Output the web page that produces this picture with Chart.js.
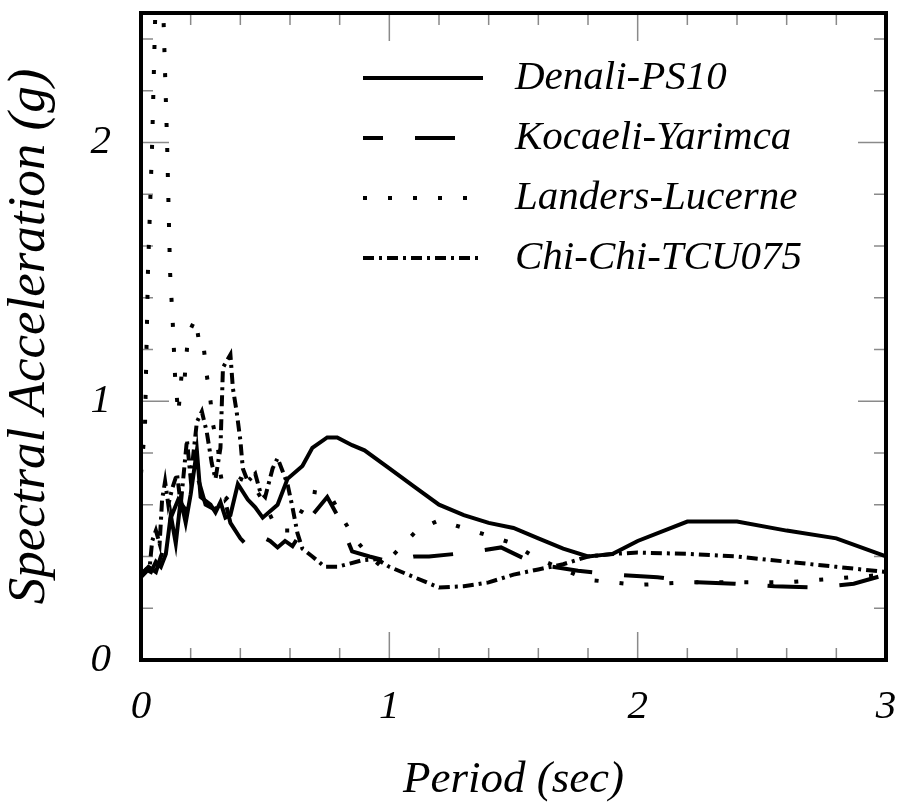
<!DOCTYPE html>
<html>
<head>
<meta charset="utf-8">
<script src="https://cdn.jsdelivr.net/npm/chart.js@4.4.1/dist/chart.umd.min.js"></script>
<style>
html, body { margin: 0; padding: 0; background: #fff; }
#probe { position: absolute; left: -999px; top: 0; font: italic 40px "Liberation Serif"; }
</style>
</head>
<body>
<span id="probe">Period</span>
<canvas id="spectraChart" width="899" height="803"></canvas>
<script>
// periods (sec) and spectral accelerations (g)
var denaliT  = [0, 0.02, 0.04, 0.06, 0.08, 0.1, 0.12, 0.14, 0.16, 0.18, 0.2, 0.225, 0.24, 0.28, 0.3, 0.32, 0.34, 0.36, 0.39, 0.43, 0.46, 0.49, 0.55, 0.59, 0.65, 0.69, 0.75, 0.79, 0.85, 0.9, 1.0, 1.1, 1.2, 1.3, 1.4, 1.5, 1.6, 1.7, 1.8, 1.9, 2.0, 2.2, 2.4, 2.6, 2.8, 3.0];
var denaliSa = [0.33, 0.35, 0.34, 0.38, 0.36, 0.41, 0.56, 0.45, 0.62, 0.53, 0.64, 0.81, 0.63, 0.60, 0.57, 0.61, 0.55, 0.56, 0.68, 0.62, 0.59, 0.55, 0.60, 0.70, 0.75, 0.82, 0.86, 0.86, 0.83, 0.81, 0.74, 0.67, 0.60, 0.56, 0.53, 0.51, 0.47, 0.43, 0.40, 0.41, 0.46, 0.535, 0.535, 0.50, 0.47, 0.40];

var kocaeliT  = [0, 0.03, 0.06, 0.08, 0.1, 0.12, 0.15, 0.18, 0.2, 0.23, 0.26, 0.3, 0.33, 0.36, 0.4, 0.45, 0.5, 0.52, 0.55, 0.58, 0.61, 0.65, 0.69, 0.75, 0.79, 0.85, 0.92, 1.0, 1.1, 1.16, 1.32, 1.45, 1.59, 1.76, 1.91, 2.08, 2.24, 2.39, 2.55, 2.72, 2.87, 3.0];
var kocaeliSa = [0.33, 0.36, 0.34, 0.40, 0.45, 0.55, 0.62, 0.58, 0.65, 0.70, 0.60, 0.58, 0.65, 0.53, 0.47, 0.42, 0.47, 0.46, 0.435, 0.46, 0.44, 0.50, 0.56, 0.63, 0.56, 0.42, 0.40, 0.38, 0.40, 0.40, 0.415, 0.435, 0.37, 0.345, 0.33, 0.32, 0.30, 0.295, 0.285, 0.28, 0.295, 0.33];

var landersT  = [0, 0.016, 0.028, 0.045, 0.06, 0.075, 0.09, 0.105, 0.117, 0.128, 0.137, 0.15, 0.165, 0.175, 0.19, 0.22, 0.235, 0.25, 0.265, 0.28, 0.29, 0.31, 0.32, 0.34, 0.37, 0.4, 0.45, 0.5, 0.55, 0.6, 0.65, 0.69, 0.76, 0.81, 0.86, 0.92, 0.97, 1.04, 1.11, 1.2, 1.3, 1.4, 1.5, 1.58, 1.7, 1.8, 1.9, 2.0, 2.2, 2.4, 2.6, 2.8, 3.0];
var landersSa = [0.72, 0.90, 1.50, 2.00, 2.60, 2.70, 2.50, 2.00, 1.50, 1.30, 1.10, 0.95, 1.12, 1.08, 1.26, 1.32, 1.22, 1.23, 1.10, 1.00, 0.91, 0.82, 0.72, 0.62, 0.65, 0.70, 0.68, 0.60, 0.50, 0.50, 0.58, 0.65, 0.64, 0.55, 0.47, 0.40, 0.36, 0.43, 0.50, 0.54, 0.51, 0.48, 0.45, 0.40, 0.35, 0.31, 0.30, 0.29, 0.30, 0.30, 0.30, 0.315, 0.33];

var chichiT  = [0, 0.02, 0.035, 0.045, 0.06, 0.075, 0.085, 0.097, 0.11, 0.125, 0.145, 0.16, 0.175, 0.185, 0.2, 0.225, 0.245, 0.265, 0.285, 0.3, 0.32, 0.33, 0.36, 0.37, 0.385, 0.4, 0.41, 0.43, 0.46, 0.48, 0.5, 0.53, 0.55, 0.57, 0.59, 0.61, 0.63, 0.65, 0.69, 0.74, 0.79, 0.83, 0.89, 0.95, 1.0, 1.1, 1.2, 1.3, 1.4, 1.5, 1.6, 1.7, 1.8, 1.9, 2.0, 2.2, 2.4, 2.6, 2.8, 3.0];
var chichiSa = [0.32, 0.34, 0.36, 0.46, 0.50, 0.45, 0.62, 0.69, 0.60, 0.66, 0.72, 0.60, 0.75, 0.85, 0.70, 0.92, 0.96, 0.88, 0.76, 0.70, 0.82, 1.13, 1.18, 1.05, 0.96, 0.85, 0.74, 0.69, 0.72, 0.65, 0.63, 0.74, 0.78, 0.73, 0.68, 0.59, 0.49, 0.43, 0.40, 0.36, 0.36, 0.37, 0.385, 0.39, 0.36, 0.32, 0.28, 0.285, 0.30, 0.33, 0.35, 0.37, 0.40, 0.41, 0.415, 0.41, 0.40, 0.38, 0.36, 0.34];

var seriesNames = ["Denali-PS10", "Kocaeli-Yarimca", "Landers-Lucerne", "Chi-Chi-TCU075"];
var xTickLabels = ["0", "1", "2", "3"];
var yTickLabels = ["0", "1", "2"];

function pts(t, s) {
    return t.map(function(v, i) { return {x: v, y: s[i]}; });
}

var serif = '"Liberation Serif", "Times New Roman", serif';

// inward tick marks on all four sides, like the original plot
var frameTicks = {
    id: 'frameTicks',
    beforeDatasetsDraw: function(chart) {
        var ctx = chart.ctx, a = chart.chartArea;
        var xs = chart.scales.x, ys = chart.scales.y;
        ctx.save();
        ctx.strokeStyle = '#8a8a8a';
        ctx.lineWidth = 1.5;
        ctx.beginPath();
        for (var i = 1; i < 15; i++) {
            var px = xs.getPixelForValue(i * 0.2);
            var len = (i % 5 === 0) ? 28 : 12;
            ctx.moveTo(px, a.bottom); ctx.lineTo(px, a.bottom - len);
            ctx.moveTo(px, a.top); ctx.lineTo(px, a.top + len);
        }
        for (var j = 1; j < 13; j++) {
            var py = ys.getPixelForValue(j * 0.2);
            var l2 = (j % 5 === 0) ? 28 : 12;
            ctx.moveTo(a.left, py); ctx.lineTo(a.left + l2, py);
            ctx.moveTo(a.right, py); ctx.lineTo(a.right - l2, py);
        }
        ctx.stroke();
        ctx.restore();
    },
    afterDatasetsDraw: function(chart) {
        var ctx = chart.ctx, a = chart.chartArea;
        ctx.save();
        ctx.strokeStyle = '#000';
        ctx.lineWidth = 4;
        ctx.strokeRect(a.left, a.top, a.right - a.left, a.bottom - a.top);
        ctx.restore();
    }
};

var lineLegend = {
    id: 'lineLegend',
    afterDraw: function(chart) {
        var ctx = chart.ctx;
        ctx.save();
        ctx.font = 'italic 41px ' + serif;
        ctx.textBaseline = 'middle';
        ctx.fillStyle = '#000';
        chart.data.datasets.forEach(function(ds, i) {
            var yy = 78 + i * 60;
            ctx.strokeStyle = '#000';
            ctx.lineWidth = ds.borderWidth;
            ctx.lineCap = 'butt';
            ctx.setLineDash(ds.borderDash || []);
            ctx.lineDashOffset = ds.legendOffset || 0;
            ctx.beginPath();
            ctx.moveTo(363, yy);
            ctx.lineTo(483, yy);
            ctx.stroke();
            ctx.setLineDash([]);
            ctx.fillText(ds.label, 515, yy);
        });
        ctx.restore();
    }
};

function noPad(s) {
    s.paddingTop = 0; s.paddingBottom = 0; s.paddingLeft = 0; s.paddingRight = 0;
}

function makeChart() {
    var ctx = document.getElementById('spectraChart').getContext('2d');
    return new Chart(ctx, {
        type: 'line',
        data: {
            datasets: [
                { label: seriesNames[0], data: pts(denaliT, denaliSa), borderColor: '#000', borderWidth: 4, pointRadius: 0, tension: 0 },
                { label: seriesNames[1], data: pts(kocaeliT, kocaeliSa), borderColor: '#000', borderWidth: 4, borderDash: [40, 32], legendOffset: 20, pointRadius: 0, tension: 0 },
                { label: seriesNames[2], data: pts(landersT, landersSa), borderColor: '#000', borderWidth: 4, borderDash: [4, 21], pointRadius: 0, tension: 0 },
                { label: seriesNames[3], data: pts(chichiT, chichiSa), borderColor: '#000', borderWidth: 4, borderDash: [11, 5, 3, 5], pointRadius: 0, tension: 0 }
            ]
        },
        options: {
            responsive: false,
            animation: false,
            devicePixelRatio: 1,
            layout: { padding: { top: 13, right: 13, left: 0, bottom: 0 } },
            plugins: { legend: { display: false }, tooltip: { enabled: false } },
            scales: {
                x: {
                    type: 'linear', min: 0, max: 3,
                    grid: { display: false, drawTicks: false },
                    border: { display: false },
                    ticks: {
                        stepSize: 1, padding: 23, color: '#000', maxRotation: 0,
                        font: { family: serif, size: 41, style: 'italic' },
                        callback: function(v) { return Number.isInteger(v) ? xTickLabels[v] : ''; }
                    },
                    title: { display: true, text: 'Period (sec)', color: '#000', padding: { top: 0, bottom: 0 },
                        font: { family: serif, size: 45, style: 'italic', lineHeight: 1 } },
                    afterFit: function(s) { s.height = 143; noPad(s); }
                },
                y: {
                    type: 'linear', min: 0, max: 2.5,
                    grid: { display: false, drawTicks: false },
                    border: { display: false },
                    ticks: {
                        stepSize: 1, padding: 30, color: '#000',
                        font: { family: serif, size: 41, style: 'italic' },
                        callback: function(v) { return Number.isInteger(v) ? yTickLabels[v] : ''; }
                    },
                    title: { display: true, text: 'Spectral Acceleration (g)', color: '#000', padding: { top: 4, bottom: 0 },
                        font: { family: serif, size: 53, style: 'italic', lineHeight: 1 } },
                    afterFit: function(s) { s.width = 141; noPad(s); }
                }
            }
        },
        plugins: [frameTicks, lineLegend]
    });
}

var spectraChart;
if (document.fonts && document.fonts.load) {
    document.fonts.load('italic 40px "Liberation Serif"').then(function() {
        spectraChart = makeChart();
    }, function() {
        spectraChart = makeChart();
    });
} else {
    spectraChart = makeChart();
}
</script>
</body>
</html>
